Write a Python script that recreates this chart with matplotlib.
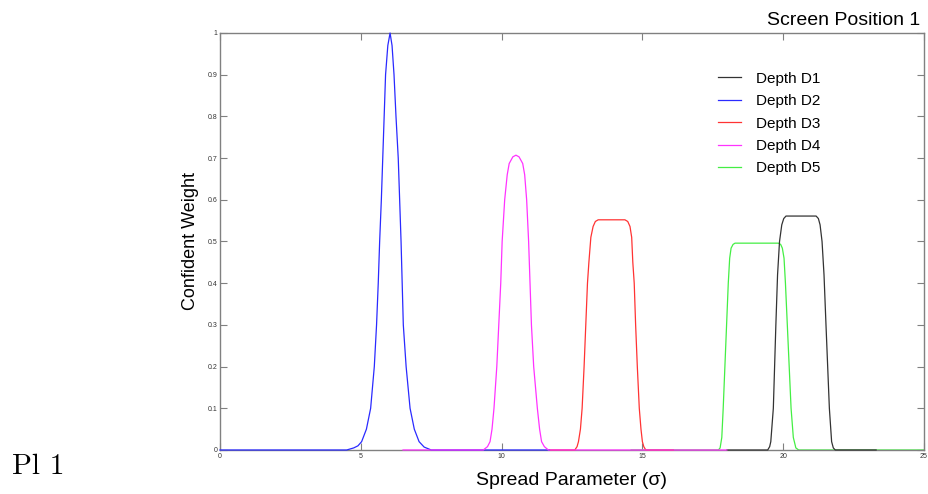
import matplotlib
matplotlib.use("Agg")
import matplotlib.pyplot as plt

# ---- data ----
d1_x = [18, 19.45, 19.52, 19.56, 19.65, 19.74, 19.80, 19.87, 19.95, 20.02, 20.10,
        21.17, 21.25, 21.31, 21.38, 21.45, 21.52, 21.64, 21.72, 21.78, 21.85, 23.3]
d1_y = [0, 0, 0.008, 0.02, 0.1, 0.3, 0.42, 0.5, 0.54, 0.555, 0.561,
        0.561, 0.555, 0.54, 0.5, 0.42, 0.3, 0.1, 0.02, 0.005, 0, 0]

d2_x = [0, 4.5, 4.75, 4.9, 5.03, 5.2, 5.35, 5.48, 5.56, 5.62, 5.67, 5.73, 5.78, 5.83,
        5.88, 5.96, 6.04, 6.11, 6.18, 6.25, 6.33, 6.38, 6.43, 6.47, 6.51, 6.61, 6.75,
        6.9, 7.07, 7.25, 7.5, 11.7]
d2_y = [0, 0, 0.005, 0.01, 0.02, 0.05, 0.1, 0.2, 0.3, 0.4, 0.5, 0.6, 0.7, 0.8,
        0.9, 0.97, 1.0, 0.97, 0.9, 0.8, 0.7, 0.6, 0.5, 0.4, 0.3, 0.2, 0.1,
        0.05, 0.02, 0.007, 0, 0]

d3_x = [11.7, 12.6, 12.68, 12.73, 12.8, 12.86, 12.93, 12.99, 13.05, 13.1, 13.17, 13.25,
        13.33, 13.43, 14.38, 14.48, 14.56, 14.62, 14.66, 14.71, 14.76, 14.82, 14.89,
        14.95, 15.0, 15.05, 15.12, 16.1]
d3_y = [0, 0, 0.008, 0.02, 0.05, 0.1, 0.2, 0.3, 0.4, 0.45, 0.51, 0.536,
        0.548, 0.552, 0.552, 0.548, 0.536, 0.51, 0.45, 0.4, 0.3, 0.2, 0.1,
        0.05, 0.02, 0.008, 0, 0]

d4_x = [6.5, 9.35, 9.5, 9.59, 9.66, 9.73, 9.83, 9.9, 9.97, 10.02, 10.11, 10.2, 10.27,
        10.4, 10.51, 10.62, 10.75, 10.82, 10.89, 10.96, 11.01, 11.06, 11.14, 11.27,
        11.35, 11.42, 11.52, 11.66, 18]
d4_y = [0, 0, 0.008, 0.02, 0.05, 0.1, 0.2, 0.3, 0.4, 0.5, 0.6, 0.66, 0.687,
        0.703, 0.707, 0.703, 0.687, 0.66, 0.6, 0.5, 0.4, 0.3, 0.2, 0.1,
        0.05, 0.02, 0.008, 0, 0]

d5_x = [14.6, 17.7, 17.76, 17.82, 17.87, 17.96, 18.05, 18.1, 18.15, 18.22, 18.29,
        19.83, 19.91, 19.97, 20.03, 20.08, 20.18, 20.28, 20.36, 20.45, 20.55, 25]
d5_y = [0, 0, 0.005, 0.03, 0.1, 0.25, 0.4, 0.46, 0.484, 0.493, 0.496,
        0.496, 0.493, 0.484, 0.46, 0.4, 0.25, 0.1, 0.03, 0.005, 0, 0]

labels = ["Depth D1", "Depth D2", "Depth D3", "Depth D4", "Depth D5"]
x_ticks = [0, 5, 10, 15, 20, 25]
y_ticks = [0, 0.1, 0.2, 0.3, 0.4, 0.5, 0.6, 0.7, 0.8, 0.9, 1]
y_tick_labels = ["0", "0.1", "0.2", "0.3", "0.4", "0.5", "0.6", "0.7", "0.8", "0.9", "1"]

# ---- figure ----
plt.rcParams['font.family'] = ['Liberation Sans', 'DejaVu Sans']
fig = plt.figure(figsize=(9.29, 4.94), dpi=100)
ax = fig.add_axes([0.2368, 0.0891, 0.7578, 0.8441])

colors = {"Depth D1": "#333333", "Depth D2": "#2a2aff", "Depth D3": "#ff3333",
          "Depth D4": "#ff33ff", "Depth D5": "#44ee44"}
series = {"Depth D1": (d1_x, d1_y), "Depth D2": (d2_x, d2_y), "Depth D3": (d3_x, d3_y),
          "Depth D4": (d4_x, d4_y), "Depth D5": (d5_x, d5_y)}
zorders = {"Depth D5": 2, "Depth D1": 3, "Depth D3": 4, "Depth D2": 5, "Depth D4": 6}

handles = []
for lab in labels:
    xs, ys = series[lab]
    h, = ax.plot(xs, ys, color=colors[lab], lw=0.9, label=lab, zorder=zorders[lab],
                 clip_on=False)
    handles.append(h)

ax.set_xlim(0, 25)
ax.set_ylim(0, 1)
ax.set_xticks(x_ticks)
ax.set_xticklabels([str(t) for t in x_ticks])
ax.set_yticks(y_ticks)
ax.set_yticklabels(y_tick_labels)
ax.tick_params(direction='in', length=5, width=0.8, color='#808080',
               labelsize=5, labelcolor='#333333', top=True, right=True, pad=2)
for s in ax.spines.values():
    s.set_color('#808080')
    s.set_linewidth(1.0)

ax.set_xlabel("Spread Parameter (σ)", fontsize=14, labelpad=9)
ax.set_ylabel("Confident Weight", fontsize=13, labelpad=6)

ax.text(1 - 4 / 704, 1.01, "Screen Position 1", transform=ax.transAxes, ha='right',
        va='bottom', fontsize=14)

leg = ax.legend(handles=handles, loc='upper left', bbox_to_anchor=(0.688, 0.94),
                frameon=False, fontsize=11, handlelength=1.5, handletextpad=1.0,
                labelspacing=0.55)

fig.text(12 / 929, 1 - 474 / 494, "Pl 1", family='cmr10', fontsize=21,
         ha='left', va='baseline')

fig.savefig("out.png", dpi=100)
